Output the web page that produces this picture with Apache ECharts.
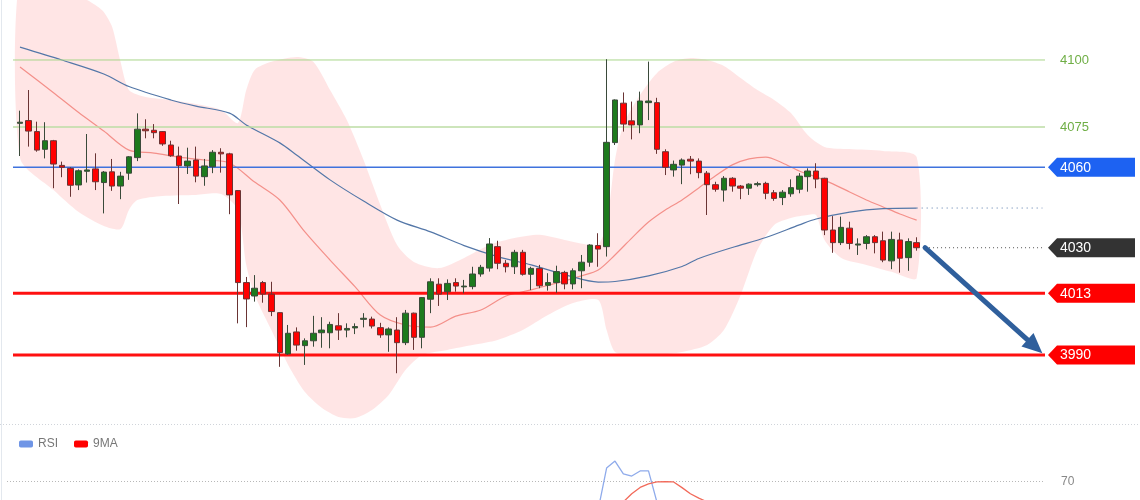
<!DOCTYPE html>
<html><head><meta charset="utf-8">
<script src="https://cdn.jsdelivr.net/npm/echarts@6/dist/echarts.min.js"></script>
<style>html,body{margin:0;padding:0;background:#fff}#c{width:1140px;height:500px}</style>
</head><body><div id="c"></div>
<script>
// ---------- data ----------
const categories = Array.from({length: 123}, (_, i) => 'T' + (i + 1));
// [open, close, low, high]
const candles = [
[4076.4,4076.8,4064.2,4081.1],[4077.4,4073.5,4067.7,4088.8],[4073.3,4066.4,4065.8,4077.0],[4066.7,4069.9,4063.3,4076.8],
[4069.9,4061.2,4052.2,4070.2],[4060.7,4060.0,4056.3,4062.1],[4059.6,4053.3,4049.0,4060.0],[4053.4,4058.7,4051.5,4059.2],
[4058.5,4059.0,4054.3,4072.4],[4059.4,4054.6,4051.5,4065.2],[4054.3,4058.2,4042.8,4058.6],[4058.3,4053.0,4051.2,4063.1],
[4053.0,4056.7,4048.1,4058.3],[4057.8,4063.9,4055.3,4064.2],[4063.6,4074.2,4062.3,4080.1],[4074.2,4073.6,4070.8,4077.9],
[4073.8,4072.9,4070.8,4076.1],[4073.3,4068.7,4068.0,4073.5],[4068.3,4064.3,4063.9,4069.9],[4064.2,4060.6,4046.3,4067.7],
[4060.5,4062.3,4057.5,4067.3],[4062.7,4056.7,4054.4,4067.7],[4056.5,4060.5,4053.1,4063.1],[4060.2,4065.6,4057.8,4066.4],
[4065.6,4065.0,4058.0,4067.1],[4065.0,4049.7,4042.5,4065.4],[4051.3,4017.0,4001.8,4051.5],[4017.0,4010.9,4000.4,4019.1],
[4012.0,4014.9,4009.9,4019.8],[4017.0,4012.7,4009.5,4017.6],[4012.7,4006.2,4004.5,4017.3],[4005.8,3990.9,3985.6,4005.9],
[3990.4,3998.1,3990.0,4001.2],[3998.6,3993.7,3991.6,4000.3],[3993.5,3995.3,3986.3,3996.2],[3995.3,3998.1,3993.1,4004.6],
[3998.3,3999.3,3992.7,4004.1],[3998.3,4001.4,3992.5,4002.4],[4000.9,3999.3,3995.6,4005.6],[3999.3,3999.9,3996.6,4001.8],
[4000.1,4000.6,3997.8,4001.8],[4003.3,4003.7,4000.3,4005.6],[4003.4,4000.8,3999.9,4004.3],[4000.2,3997.5,3996.4,4002.0],
[3997.5,3999.7,3991.2,4000.3],[3999.3,3994.6,3983.2,4004.1],[3994.6,4005.6,3993.7,4006.8],[4005.6,3996.6,3991.9,4005.8],
[3996.6,4011.4,3992.5,4011.6],[4010.8,4017.3,4005.6,4018.6],[4016.4,4012.7,4008.3,4018.6],[4013.6,4016.7,4010.5,4018.2],
[4017.0,4015.7,4013.6,4018.6],[4015.4,4015.7,4013.0,4018.0],[4015.5,4020.2,4014.5,4022.9],[4020.2,4022.7,4019.2,4023.6],
[4022.4,4031.4,4021.1,4033.6],[4030.4,4024.2,4022.0,4032.6],[4024.2,4022.9,4020.8,4025.4],[4022.9,4028.3,4020.2,4029.2],
[4028.3,4020.1,4019.6,4029.2],[4020.1,4022.3,4014.2,4022.9],[4022.3,4015.8,4014.9,4023.6],[4016.0,4017.0,4014.0,4020.5],
[4017.0,4021.1,4013.2,4023.3],[4020.8,4016.5,4014.5,4021.4],[4016.5,4021.4,4014.5,4022.3],[4021.4,4024.6,4014.9,4027.3],
[4024.6,4031.0,4022.9,4031.3],[4030.8,4029.5,4022.9,4035.4],[4030.4,4069.3,4026.7,4100.3],[4069.2,4085.1,4068.3,4085.3],
[4083.9,4076.1,4073.3,4087.9],[4077.3,4075.8,4070.4,4084.5],[4075.8,4084.7,4072.7,4088.2],[4084.1,4084.7,4077.6,4099.4],
[4084.1,4066.7,4065.0,4085.9],[4065.8,4060.0,4057.1,4066.7],[4059.0,4061.1,4056.5,4062.5],[4060.8,4062.7,4053.7,4063.3],
[4063.0,4062.3,4057.4,4064.2],[4062.3,4058.0,4055.9,4063.3],[4057.8,4053.5,4042.2,4058.6],[4053.5,4051.8,4050.9,4054.6],
[4051.5,4055.9,4047.2,4056.7],[4055.9,4053.0,4050.9,4056.3],[4053.0,4052.2,4048.1,4053.4],[4052.2,4053.7,4049.7,4054.0],
[4053.5,4053.9,4052.8,4054.6],[4054.0,4050.3,4048.1,4054.6],[4050.5,4048.4,4047.5,4051.5],[4048.7,4050.7,4045.9,4051.5],
[4050.1,4052.4,4049.0,4055.5],[4051.8,4056.7,4050.3,4057.8],[4056.5,4058.6,4050.9,4059.6],[4058.6,4055.6,4052.2,4061.5],
[4055.9,4036.6,4034.7,4056.1],[4036.6,4031.9,4028.1,4041.8],[4031.9,4037.6,4031.0,4041.6],[4037.3,4031.6,4029.4,4039.7],
[4031.0,4031.4,4027.3,4033.5],[4031.6,4034.1,4029.4,4034.7],[4034.1,4031.9,4027.9,4034.7],[4032.6,4025.4,4024.6,4036.0],
[4025.1,4033.1,4022.0,4036.0],[4032.9,4026.1,4020.7,4035.6],[4026.3,4032.3,4021.4,4033.5],[4031.9,4030.0,4028.9,4033.9]
];
// long moving average (blue)
const maBlueIdx = [0,5,10,13,18,21,25,27,31,33,37,41,45,49,53,57,61,65,69,71,75,79,81,85,89,93,95,99,103,107];
const maBlue    = [4104.8,4100.0,4094.8,4090.1,4085.1,4082.8,4080.2,4075.8,4069.1,4064.6,4055.3,4047.4,4040.3,4035.9,4030.8,
                   4026.7,4023.6,4020.0,4017.2,4017.4,4019.5,4023.0,4026.0,4030.1,4033.8,4038.5,4040.7,4043.3,4044.6,4044.8];
// band middle (red)
const midIdx = [0,4,7,10,13,16,19,22,25,28,31,34,37,40,43,46,49,52,55,58,61,64,67,69,71,73,75,77,79,81,83,85,87,89,91,93,95,97,99,101,103,105,107];
const midRed = [4097.4,4087.8,4080.4,4073.5,4066.4,4065.3,4063.8,4062.7,4061.6,4054.5,4047.8,4035.9,4025.4,4015.4,4004.9,4001.2,
                4000.4,4004.5,4006.8,4012.0,4014.3,4016.8,4019.5,4021.7,4027.3,4033.6,4039.6,4044.1,4047.8,4052.3,4056.8,4060.9,
                4063.1,4063.8,4061.6,4058.6,4056.4,4053.8,4050.8,4047.8,4045.2,4042.6,4040.3];
// band upper / lower
const upIdx = [0,4,7,9,10,11,12,13,15,18,21,24,26,27,28,30,33,35,37,39,41,43,45,47,50,53,56,59,62,65,68,69,70,71,72,74,76,78,80,82,84,86,88,90,92,94,96,99,103,107];
const bandUpper = [4131.7,4129.8,4124.2,4120.5,4117.9,4112.3,4099.3,4088.8,4086.2,4085.1,4083.6,4081.4,4076.5,4088.8,4096.3,4099.3,
                   4101.1,4099.3,4088.8,4077.6,4062.7,4045.9,4031.0,4024.7,4022.4,4026.2,4031.0,4033.6,4034.8,4032.9,4031.0,4031.0,
                   4038.5,4062.7,4075.8,4087.0,4095.1,4099.3,4100.7,4100.0,4097.8,4093.3,4088.8,4085.1,4080.2,4072.0,4067.6,4066.8,
                   4066.1,4063.8];
const loIdx = [0,4,7,10,12,13,14,17,21,24,26,27,28,30,32,34,36,38,40,42,44,46,48,51,54,57,60,63,66,69,70,71,73,76,79,82,84,86,88,90,92,94,95,96,98,101,104,107];
const bandLower = [4063.5,4051.5,4043.3,4038.1,4037.0,4044.1,4047.8,4049.3,4049.7,4050.0,4044.1,4023.6,4012.4,3999.3,3986.3,3976.2,
                   3970.3,3966.9,3966.5,3969.5,3975.1,3984.4,3990.0,3991.9,3993.7,3995.6,3999.3,4004.9,4009.4,4010.5,3999.3,3991.1,
                   3990.0,3990.0,3991.1,3993.7,3999.3,4012.4,4029.2,4038.5,4041.1,4042.2,4042.2,4032.9,4026.2,4023.6,4021.0,4018.7];
// price levels on the right
const levelValues = [4100, 4075, 4060, 4030, 4013, 3990];
const levelLabels = ['4100', '4075', '4060', '4030', '4013', '3990'];
// projected move arrow [index, price]
const arrowFrom = [108, 4030];
const arrowTo = [122, 3990.7];
const maBlueExtendTo = 122;
// RSI panel
const rsiIdx = [69, 70, 71, 72, 73, 74, 75, 76];
const rsiValues = [55, 76.8, 80.5, 73.7, 72.6, 75.3, 75.3, 59];
const ma9Idx = [72, 73, 74, 75, 76, 77, 78, 79, 80, 81, 82];
const ma9Values = [59, 63.3, 66.6, 68.5, 69.5, 69.7, 69.5, 66.5, 63.3, 61, 59];
const rsiLevel = 70;

// ---------- layout ----------
const STEP = 8.38;
const GRID_LEFT = 20 - STEP / 2;
const GRID_W = categories.length * STEP;
const pair = (idx, vals) => idx.map((x, k) => [x, vals[k]]);

const levelStyles = [
  {line: '#a9d68a', width: 1, text: '#6fae45'},
  {line: '#bcdca5', width: 1.5, text: '#6fae45'},
  {line: '#3f72dd', width: 1.3, tag: '#1d62f2'},
  {line: '#555555', width: 1, dash: [1, 3], tag: '#333333', fromLast: true},
  {line: '#ff1010', width: 3, tag: '#ff0000'},
  {line: '#ff1010', width: 3, tag: '#ff0000'}
];
const FONT = '"Liberation Sans", Arial, sans-serif';

const chart = echarts.init(document.getElementById('c'), null, {renderer: 'canvas'});
chart.setOption({
  animation: false,
  backgroundColor: '#ffffff',
  legend: {
    data: ['RSI', '9MA'], left: 14, top: 433, icon: 'roundRect',
    itemWidth: 14, itemHeight: 7, itemGap: 16,
    textStyle: {color: '#777', fontSize: 12, fontFamily: FONT}
  },
  grid: [
    {left: GRID_LEFT, top: 0, width: GRID_W, height: 425},
    {left: GRID_LEFT, top: 424, width: GRID_W, height: 76}
  ],
  xAxis: [
    {type: 'category', data: categories, gridIndex: 0, boundaryGap: true, show: false},
    {type: 'category', data: categories, gridIndex: 1, boundaryGap: true, show: false}
  ],
  yAxis: [
    {type: 'value', gridIndex: 0, min: 3963.9, max: 4122.37, show: false, splitLine: {show: false}},
    {type: 'value', gridIndex: 1, min: 60, max: 100, show: false, splitLine: {show: false}}
  ],
  graphic: [
    {type: 'line', shape: {x1: 0, y1: 424.5, x2: 1140, y2: 424.5}, style: {stroke: '#d0d4da', lineWidth: 1, lineDash: [1, 2]}, silent: true},
    {type: 'line', shape: {x1: 1.5, y1: 0, x2: 1.5, y2: 500}, style: {stroke: '#e3e8ee', lineWidth: 1}, silent: true}
  ],
  series: [
    {
      type: 'custom', name: 'band', xAxisIndex: 0, yAxisIndex: 0, silent: true, z: 1,
      data: [[0, 4050]],
      renderItem: function (params, api) {
        const up = upIdx.map((x, k) => api.coord([x, bandUpper[k]]));
        const lo = loIdx.map((x, k) => api.coord([x, bandLower[k]])).reverse();
        return {type: 'polygon', shape: {points: up.concat(lo), smooth: 0.25},
                style: {fill: 'rgba(255,0,0,0.10)'}};
      }
    },
    {
      type: 'custom', name: 'levels', xAxisIndex: 0, yAxisIndex: 0, silent: true, z: 3,
      data: levelValues.map((v, k) => [0, v]),
      renderItem: function (params, api) {
        const k = params.dataIndex;
        const v = levelValues[k];
        const st = levelStyles[k];
        const y = api.coord([0, v])[1];
        const x1 = st.fromLast ? api.coord([arrowFrom[0], v])[0] : 13;
        const ch = [{type: 'line', shape: {x1: x1, y1: y, x2: 1045, y2: y},
                     style: {stroke: st.line, lineWidth: st.width, lineDash: st.dash || null}}];
        if (st.tag) {
          ch.push({type: 'polygon', shape: {points: [[1048, y], [1057, y - 9.5], [1135, y - 9.5], [1135, y + 9.5], [1057, y + 9.5]]},
                   style: {fill: st.tag}});
          ch.push({type: 'text', style: {text: levelLabels[k], x: 1060, y: y + 0.5, fill: '#ffffff',
                   font: '14px ' + FONT, align: 'left', verticalAlign: 'middle'}});
        } else {
          ch.push({type: 'text', style: {text: levelLabels[k], x: 1060, y: y + 0.5, fill: st.text,
                   font: '13px ' + FONT, align: 'left', verticalAlign: 'middle'}});
        }
        return {type: 'group', children: ch};
      }
    },
    {
      type: 'line', name: 'mid', xAxisIndex: 0, yAxisIndex: 0, data: pair(midIdx, midRed),
      showSymbol: false, smooth: 0.3, silent: true, z: 2,
      lineStyle: {color: '#f4908a', width: 1.2}
    },
    {
      type: 'line', name: 'maBlue', xAxisIndex: 0, yAxisIndex: 0, data: pair(maBlueIdx, maBlue),
      showSymbol: false, smooth: 0.3, silent: true, z: 2,
      lineStyle: {color: '#5477a8', width: 1.2}
    },
    {
      type: 'line', name: 'maBlueExt', xAxisIndex: 0, yAxisIndex: 0,
      data: [[maBlueIdx[maBlueIdx.length - 1], maBlue[maBlue.length - 1]], [maBlueExtendTo, maBlue[maBlue.length - 1]]],
      showSymbol: false, silent: true, z: 2,
      lineStyle: {color: '#5477a8', width: 1, type: [1, 4]}
    },
    {
      type: 'candlestick', name: 'price', xAxisIndex: 0, yAxisIndex: 0, data: candles, z: 4,
      barWidth: 6, silent: true,
      itemStyle: {color: '#1d7a1d', color0: '#ff0000', borderColor: '#3a4a3a', borderColor0: '#6a3434', borderWidth: 1}
    },
    {
      type: 'custom', name: 'arrow', xAxisIndex: 0, yAxisIndex: 0, silent: true, z: 5,
      data: [arrowFrom],
      renderItem: function (params, api) {
        const a = api.coord(arrowFrom), b = api.coord(arrowTo);
        const dx = b[0] - a[0], dy = b[1] - a[1], L = Math.sqrt(dx * dx + dy * dy);
        const ux = dx / L, uy = dy / L, px = -uy, py = ux;
        const head = 20, hw = 9;
        const bx = b[0] - ux * head, by = b[1] - uy * head;
        return {type: 'group', children: [
          {type: 'line', shape: {x1: a[0], y1: a[1], x2: bx + ux * 2, y2: by + uy * 2},
           style: {stroke: '#2f5f9c', lineWidth: 5, lineCap: 'round'}},
          {type: 'polygon', shape: {points: [[b[0], b[1]], [bx + px * hw, by + py * hw], [bx - px * hw, by - py * hw]]},
           style: {fill: '#2f5f9c'}}
        ]};
      }
    },
    {
      type: 'custom', name: 'rsiLevel', xAxisIndex: 1, yAxisIndex: 1, silent: true, z: 2,
      data: [[0, rsiLevel]],
      renderItem: function (params, api) {
        const y = Math.round(api.coord([0, rsiLevel])[1]) + 0.5;
        return {type: 'group', children: [
          {type: 'line', shape: {x1: 7, y1: y, x2: 1045, y2: y}, style: {stroke: '#b8b8b8', lineWidth: 1, lineDash: [1, 2]}},
          {type: 'text', style: {text: String(rsiLevel), x: 1061, y: y, fill: '#888', font: '12px ' + FONT, verticalAlign: 'middle'}}
        ]};
      }
    },
    {
      type: 'line', name: 'RSI', xAxisIndex: 1, yAxisIndex: 1, data: pair(rsiIdx, rsiValues),
      showSymbol: false, silent: true, color: '#6f95e6', lineStyle: {color: '#8fabeb', width: 1.3}
    },
    {
      type: 'line', name: '9MA', xAxisIndex: 1, yAxisIndex: 1, data: pair(ma9Idx, ma9Values),
      showSymbol: false, silent: true, color: '#ff0000', lineStyle: {color: '#f26a5a', width: 1.3}
    }
  ]
});
</script></body></html>
